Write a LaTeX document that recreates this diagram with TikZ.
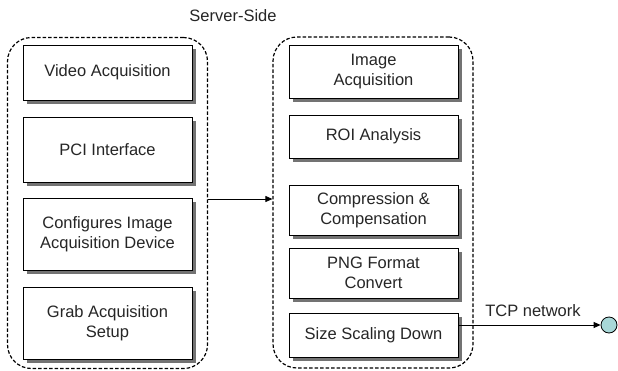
\documentclass[tikz,border=0pt]{standalone}
\usepackage{fontspec}
\setmainfont{Liberation Sans}
\usetikzlibrary{
  arrows.meta,
  shadows,
  positioning
}

\definecolor{port-fill}{HTML}{A8D8D8}

\begin{document}
\begin{tikzpicture}[
  x=1pt, y=-1pt,
  every node/.style={font=\fontsize{16.5}{20}\selectfont, text=black!85},
  stage-box/.style={
    rectangle,
    draw,
    fill=white,
    line width=0.8pt,
    align=center,
    minimum width=169pt,
    drop shadow={shadow xshift=3.5pt, shadow yshift=-3.5pt, fill=black!55, opacity=1}
  },
  stage-group/.style={
    rectangle,
    draw,
    line width=1.2pt,
    dash pattern=on 3.5pt off 2pt,
    rounded corners=24pt,
    minimum width=200pt,
    minimum height=331pt
  },
  link/.style={
    line width=0.8pt,
    -{Triangle[length=7pt,width=6pt]}
  }
]
\useasboundingbox (0,0) rectangle (618,370);

% groups
\node [stage-group] (client-group) at (107.5,203) {};
\node [stage-group] (server-group) at (373,202.5) {};
\node (server-side) at (233,16) {Server-Side};

% left column
\node [stage-box, minimum height=55pt] (video-acquisition) at (107.5,72.5) {Video Acquisition};
\node [stage-box, minimum height=65pt] (pci-interface) at (107.5,149.5) {PCI Interface};
\node [stage-box, minimum height=72pt] (configures-device) at (107.5,234) {Configures Image\\Acquisition Device};
\node [stage-box, minimum height=72pt] (grab-setup) at (107.5,323) {Grab Acquisition\\Setup};

% right column
\node [stage-box, minimum height=53pt] (image-acquisition) at (373.5,71.5) {Image\\Acquisition};
\node [stage-box, minimum height=43pt] (roi-analysis) at (373.5,136.5) {ROI Analysis};
\node [stage-box, minimum height=50pt] (compression) at (373.5,210) {Compression \&\\Compensation};
\node [stage-box, minimum height=50pt] (png-convert) at (373.5,273) {PNG Format\\Convert};
\node [stage-box, minimum height=44pt] (size-scaling) at (373.5,335) {Size Scaling Down};

% output port
\node [circle, draw, line width=0.8pt, fill=port-fill, minimum size=16pt, inner sep=0pt] (tcp-port) at (609,325) {};
\node (tcp-label) at (533,311) {TCP network};

\coordinate (handoff) at (240,199);
\draw [link] (client-group.east |- handoff) -- (server-group.west |- handoff);
\draw [link] (size-scaling.east |- tcp-port) -- (tcp-port.west);

\end{tikzpicture}
\end{document}
